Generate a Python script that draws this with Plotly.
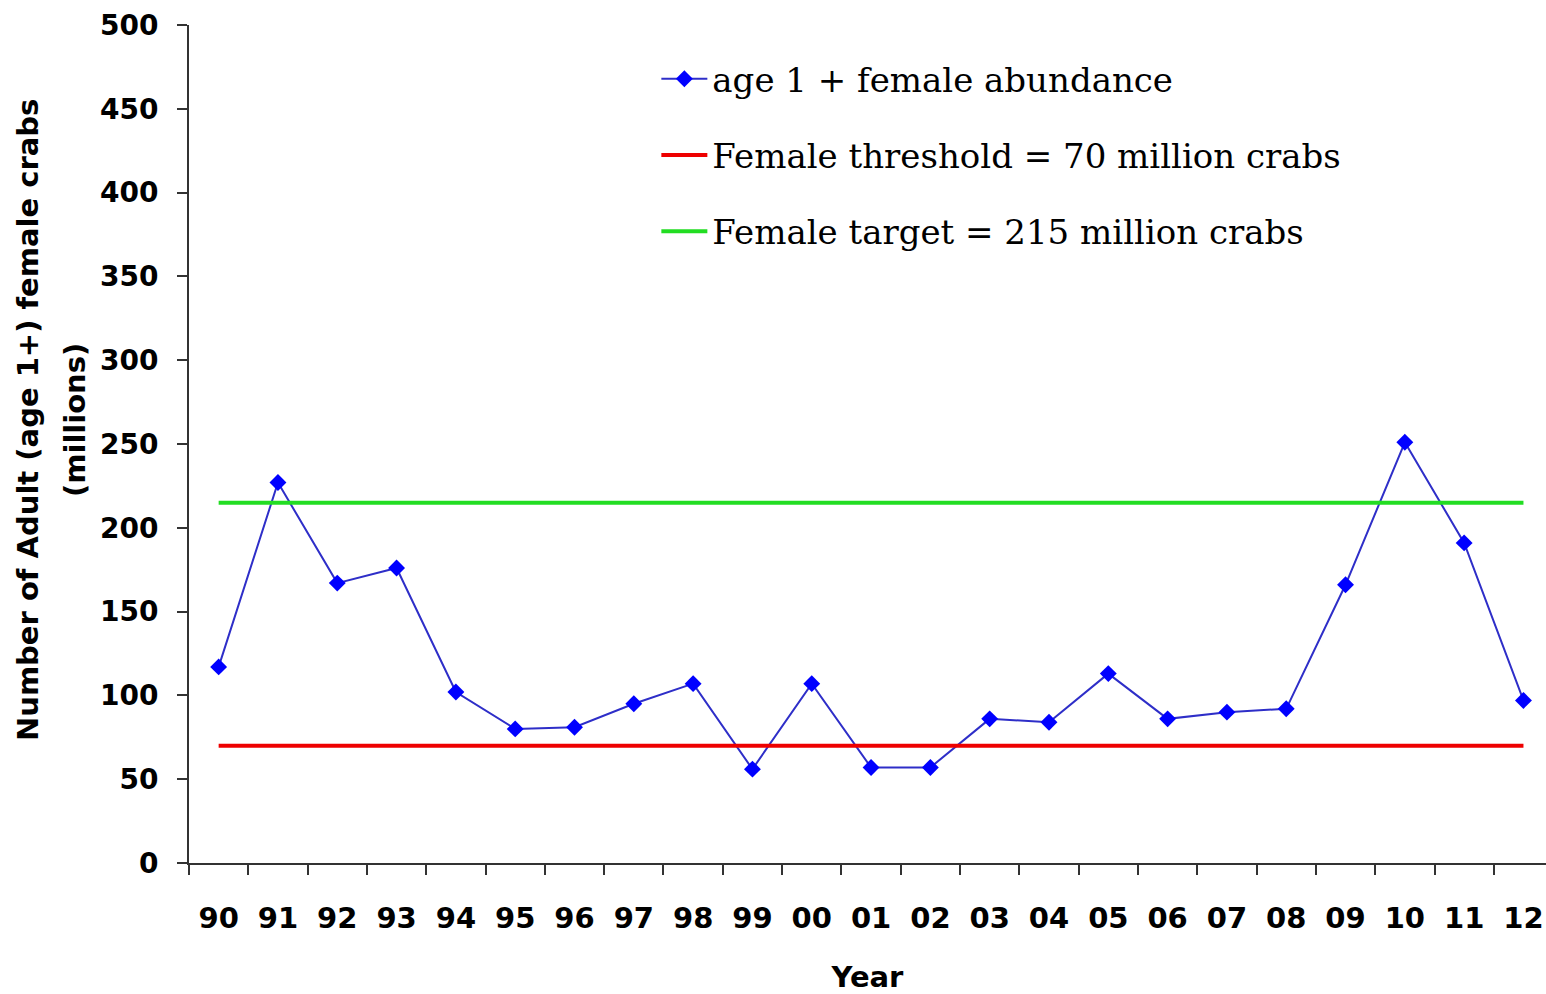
import plotly.graph_objects as go

years = ["90", "91", "92", "93", "94", "95", "96", "97", "98", "99", "00", "01",
         "02", "03", "04", "05", "06", "07", "08", "09", "10", "11", "12"]
abundance = [117, 227, 167, 176, 102, 80, 81, 95, 107, 56, 107, 57,
             57, 86, 84, 113, 86, 90, 92, 166, 251, 191, 97]
threshold_value = 70
target_value = 215
threshold = [threshold_value] * len(years)
target = [target_value] * len(years)

fig = go.Figure()
fig.add_trace(go.Scatter(
    x=years, y=abundance, mode="lines+markers",
    name="age 1 + female abundance",
    line=dict(color="#2E2EC8", width=2),
    marker=dict(symbol="diamond", size=13, color="#0000FF"),
    legendgroup="a",
))
fig.add_trace(go.Scatter(
    x=years, y=threshold, mode="lines",
    name="Female threshold = 70 million crabs",
    line=dict(color="#EE0000", width=4),
    legendgroup="b",
))
fig.add_trace(go.Scatter(
    x=years, y=target, mode="lines",
    name="Female target = 215 million crabs",
    line=dict(color="#22DD22", width=4),
    legendgroup="c",
))

xtick_font = dict(family="DejaVu Sans", size=29, color="black", weight="bold")
ytick_font = dict(family="DejaVu Sans", size=28, color="black", weight="bold")
title_font = dict(family="DejaVu Sans", size=29, color="black", weight="bold")

fig.update_layout(
    width=1546, height=994,
    margin=dict(l=189, r=0, t=25, b=131, autoexpand=False),
    paper_bgcolor="white", plot_bgcolor="white",
    showlegend=True,
    legend=dict(
        x=0.3444, y=0.970, xanchor="left", yanchor="top",
        font=dict(family="DejaVu Serif", size=34, color="black"),
        bgcolor="rgba(0,0,0,0)", itemwidth=46,
        tracegroupgap=29,
    ),
    xaxis=dict(
        type="category", range=[-0.5, 22.38], automargin=False,
        showline=True, linecolor="#333333", linewidth=2,
        ticks="outside", ticklen=10, tickwidth=2, tickcolor="#333333",
        tickson="boundaries", showgrid=False, zeroline=False,
        tickfont=xtick_font, ticklabelstandoff=28,
        title=dict(text="Year", font=title_font, standoff=36),
    ),
    yaxis=dict(
        range=[0, 500], dtick=50, automargin=False,
        showline=True, linecolor="#333333", linewidth=2,
        ticks="outside", ticklen=10, tickwidth=2, tickcolor="#333333",
        showgrid=False, zeroline=False,
        tickfont=ytick_font, ticklabelstandoff=13,
    ),
    annotations=[
        dict(text="Number of Adult (age 1+) female crabs", textangle=-90,
             xref="paper", yref="paper", x=0, y=0.5286, xanchor="center",
             yanchor="middle", xshift=-161, showarrow=False, font=title_font),
        dict(text="(millions)", textangle=-90,
             xref="paper", yref="paper", x=0, y=0.5286, xanchor="center",
             yanchor="middle", xshift=-114, showarrow=False, font=title_font),
    ],
)

fig.write_html(
    "out.html",
    config={"displayModeBar": False},
    post_script="document.body.style.margin='0';document.body.style.overflow='hidden';",
)
